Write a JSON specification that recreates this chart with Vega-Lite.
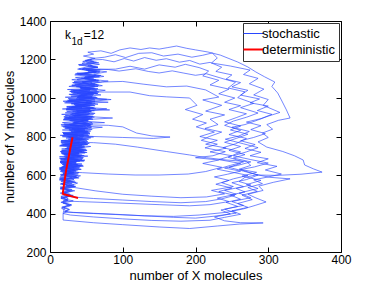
{
"$schema":"https://vega.github.io/schema/vega-lite/v6.json",
"width":291,"height":231,
"autosize":{"type":"none"},
"padding":{"left":50,"top":21,"right":36,"bottom":32},
"background":"white",
"config":{
 "view":{"stroke":"#000","strokeWidth":1},
 "axis":{"grid":false,"domain":false,"tickSize":-5,"tickColor":"#000","tickWidth":1,"labelFont":"Liberation Sans","labelFontSize":12,"labelColor":"#000","titleFont":"Liberation Sans","titleFontSize":13,"titleFontWeight":"normal","titleColor":"#000","labelFlush":false,"labelOverlap":false,"format":"d"},
 "legend":{"orient":"top-right","offset":2,"padding":4,"strokeColor":"#333","fillColor":"#fff","cornerRadius":0,"symbolType":"stroke","symbolSize":400,"labelFont":"Liberation Sans","labelFontSize":13,"labelColor":"#000","rowPadding":2,"labelOffset":2},
 "text":{"font":"Liberation Sans","fill":"#000"}
},
"resolve":{"axis":{"x":"independent","y":"independent"}},
"layer":[
{"data":{"values":[
{"x":22,"y":482},{"x":28,"y":495},{"x":17,"y":508},{"x":26,"y":520},{"x":16,"y":532},{"x":30,"y":545},{"x":15,"y":556},{"x":34,"y":568},{"x":14,"y":580},{"x":37,"y":590},{"x":18,"y":603},{"x":33,"y":615},{"x":13,"y":628},{"x":40,"y":636},{"x":19,"y":648},{"x":36,"y":660},{"x":14,"y":672},{"x":44,"y":680},{"x":21,"y":693},{"x":39,"y":704},{"x":15,"y":716},{"x":47,"y":724},{"x":24,"y":737},{"x":42,"y":748},{"x":16,"y":760},{"x":50,"y":768},{"x":27,"y":781},{"x":45,"y":792},{"x":17,"y":804},{"x":52,"y":812},{"x":29,"y":826},{"x":48,"y":838},{"x":18,"y":850},{"x":55,"y":858},{"x":31,"y":871},{"x":51,"y":883},{"x":20,"y":896},{"x":57,"y":904},{"x":34,"y":917},{"x":54,"y":929},{"x":22,"y":942},{"x":59,"y":950},{"x":36,"y":963},{"x":56,"y":975},{"x":24,"y":988},{"x":61,"y":996},{"x":39,"y":1009},{"x":58,"y":1021},{"x":27,"y":1034},{"x":64,"y":1042},{"x":41,"y":1055},{"x":61,"y":1067},{"x":31,"y":1080},{"x":66,"y":1088},{"x":45,"y":1101},{"x":62,"y":1113},{"x":35,"y":1126},{"x":68,"y":1134},{"x":49,"y":1147},{"x":65,"y":1159},{"x":40,"y":1171},{"x":67,"y":1183},{"x":50,"y":1195},{"x":62,"y":1206},{"x":46,"y":1218},{"x":60,"y":1228},{"x":52,"y":1238},
{"x":70,"y":1245},{"x":84,"y":1232},{"x":96,"y":1250},{"x":110,"y":1260},{"x":125,"y":1252},{"x":137,"y":1260},{"x":150,"y":1254},{"x":162,"y":1262},{"x":174,"y":1270},{"x":188,"y":1258},{"x":200,"y":1250},{"x":217,"y":1239},{"x":234,"y":1223},{"x":246,"y":1205},{"x":258,"y":1187},{"x":272,"y":1161},{"x":283,"y":1135},{"x":295,"y":1110},{"x":309,"y":1083},{"x":305,"y":1060},{"x":313,"y":1026},{"x":318,"y":990},{"x":325,"y":938},{"x":330,"y":896},{"x":314,"y":884},{"x":298,"y":862},{"x":306,"y":838},{"x":292,"y":818},{"x":300,"y":795},{"x":286,"y":772},{"x":298,"y":745},{"x":320,"y":722},{"x":336,"y":700},{"x":348,"y":678},{"x":350,"y":652},{"x":362,"y":632},{"x":374,"y":615},{"x":345,"y":604},{"x":312,"y":598},{"x":283,"y":600},{"x":268,"y":588},{"x":260,"y":566},{"x":276,"y":548},{"x":256,"y":530},{"x":268,"y":512},{"x":248,"y":496},{"x":262,"y":474},{"x":242,"y":458},{"x":258,"y":437},{"x":235,"y":418},{"x":248,"y":398},{"x":226,"y":382},{"x":240,"y":362},{"x":262,"y":352},{"x":293,"y":351},{"x":260,"y":345},{"x":230,"y":335},{"x":192,"y":322},{"x":150,"y":330},{"x":100,"y":342},{"x":60,"y":352},{"x":18,"y":366},{"x":18,"y":400},
{"x":20,"y":434},{"x":26,"y":446},{"x":16,"y":458},{"x":24,"y":470},{"x":15,"y":484},{"x":29,"y":494},{"x":17,"y":506},{"x":31,"y":518},{"x":14,"y":531},{"x":35,"y":541},{"x":16,"y":555},{"x":27,"y":566},{"x":13,"y":578},{"x":38,"y":586},{"x":20,"y":598},{"x":32,"y":611},{"x":15,"y":623},{"x":42,"y":630},{"x":18,"y":644},{"x":37,"y":655},{"x":14,"y":667},{"x":46,"y":674},{"x":22,"y":688},{"x":35,"y":699},{"x":16,"y":711},{"x":49,"y":718},{"x":25,"y":731},{"x":44,"y":742},{"x":15,"y":754},{"x":40,"y":766},{"x":20,"y":778},{"x":53,"y":785},{"x":26,"y":797},{"x":46,"y":809},{"x":17,"y":821},{"x":56,"y":828},{"x":30,"y":841},{"x":49,"y":853},{"x":19,"y":865},{"x":75,"y":872},{"x":28,"y":885},{"x":52,"y":897},{"x":21,"y":909},{"x":60,"y":916},{"x":37,"y":929},{"x":55,"y":941},{"x":23,"y":953},{"x":62,"y":960},{"x":33,"y":973},{"x":57,"y":985},{"x":25,"y":997},{"x":63,"y":1004},{"x":42,"y":1017},{"x":59,"y":1029},{"x":29,"y":1041},{"x":66,"y":1048},{"x":38,"y":1061},{"x":62,"y":1073},{"x":33,"y":1085},{"x":67,"y":1092},{"x":47,"y":1105},{"x":63,"y":1117},{"x":37,"y":1129},{"x":69,"y":1136},{"x":44,"y":1149},{"x":66,"y":1161},{"x":39,"y":1173},{"x":64,"y":1185},{"x":48,"y":1195},{"x":58,"y":1205},
{"x":75,"y":1212},{"x":90,"y":1225},{"x":104,"y":1210},{"x":122,"y":1232},{"x":140,"y":1235},{"x":156,"y":1218},{"x":176,"y":1228},{"x":195,"y":1212},{"x":210,"y":1222},{"x":223,"y":1234},{"x":230,"y":1208},{"x":222,"y":1182},{"x":248,"y":1166},{"x":275,"y":1145},{"x":266,"y":1122},{"x":286,"y":1102},{"x":274,"y":1074},{"x":294,"y":1046},{"x":280,"y":1016},{"x":300,"y":992},{"x":293,"y":962},{"x":316,"y":925},{"x":300,"y":906},{"x":283,"y":882},{"x":268,"y":862},{"x":250,"y":848},{"x":274,"y":826},{"x":259,"y":802},{"x":241,"y":786},{"x":266,"y":762},{"x":286,"y":742},{"x":270,"y":720},{"x":252,"y":700},{"x":276,"y":680},{"x":300,"y":662},{"x":281,"y":642},{"x":262,"y":628},{"x":283,"y":603},{"x":302,"y":588},{"x":330,"y":580},{"x":307,"y":562},{"x":287,"y":542},{"x":293,"y":520},{"x":272,"y":500},{"x":283,"y":481},{"x":297,"y":460},{"x":282,"y":442},{"x":266,"y":424},{"x":242,"y":406},{"x":205,"y":392},{"x":170,"y":385},{"x":130,"y":388},{"x":90,"y":396},{"x":55,"y":402},
{"x":20,"y":408},{"x":27,"y":420},{"x":16,"y":432},{"x":30,"y":444},{"x":18,"y":456},{"x":25,"y":468},{"x":15,"y":480},{"x":31,"y":492},{"x":19,"y":504},{"x":28,"y":516},{"x":14,"y":528},{"x":33,"y":539},{"x":17,"y":551},{"x":36,"y":562},{"x":13,"y":574},{"x":30,"y":585},{"x":21,"y":597},{"x":39,"y":606},{"x":14,"y":619},{"x":34,"y":630},{"x":17,"y":642},{"x":45,"y":650},{"x":20,"y":663},{"x":38,"y":675},{"x":13,"y":687},{"x":43,"y":694},{"x":23,"y":707},{"x":48,"y":715},{"x":17,"y":728},{"x":41,"y":740},{"x":26,"y":752},{"x":51,"y":759},{"x":15,"y":772},{"x":47,"y":783},{"x":28,"y":795},{"x":54,"y":802},{"x":18,"y":815},{"x":43,"y":827},{"x":30,"y":839},{"x":57,"y":846},{"x":20,"y":859},{"x":50,"y":871},{"x":27,"y":883},{"x":59,"y":890},{"x":19,"y":903},{"x":53,"y":915},{"x":35,"y":927},{"x":61,"y":934},{"x":23,"y":947},{"x":55,"y":959},{"x":30,"y":971},{"x":80,"y":978},{"x":26,"y":991},{"x":58,"y":1003},{"x":40,"y":1015},{"x":65,"y":1022},{"x":28,"y":1035},{"x":60,"y":1047},{"x":36,"y":1059},{"x":67,"y":1066},{"x":32,"y":1079},{"x":63,"y":1091},{"x":43,"y":1103},{"x":68,"y":1110},{"x":38,"y":1123},{"x":64,"y":1135},{"x":50,"y":1145},{"x":65,"y":1150},
{"x":80,"y":1148},{"x":95,"y":1140},{"x":118,"y":1152},{"x":135,"y":1138},{"x":150,"y":1130},{"x":168,"y":1141},{"x":183,"y":1130},{"x":200,"y":1118},{"x":215,"y":1126},{"x":238,"y":1100},{"x":255,"y":1082},{"x":245,"y":1052},{"x":268,"y":1032},{"x":258,"y":1002},{"x":280,"y":972},{"x":262,"y":950},{"x":286,"y":922},{"x":270,"y":900},{"x":252,"y":880},{"x":240,"y":858},{"x":262,"y":832},{"x":246,"y":810},{"x":270,"y":790},{"x":255,"y":762},{"x":238,"y":742},{"x":262,"y":720},{"x":245,"y":692},{"x":266,"y":668},{"x":248,"y":650},{"x":230,"y":630},{"x":254,"y":612},{"x":272,"y":598},{"x":252,"y":580},{"x":236,"y":560},{"x":252,"y":540},{"x":222,"y":520},{"x":240,"y":502},{"x":215,"y":486},{"x":180,"y":482},{"x":140,"y":490},{"x":100,"y":500},{"x":62,"y":518},{"x":32,"y":536},
{"x":22,"y":543},{"x":30,"y":555},{"x":15,"y":567},{"x":33,"y":577},{"x":14,"y":590},{"x":38,"y":598},{"x":18,"y":611},{"x":29,"y":622},{"x":13,"y":634},{"x":41,"y":641},{"x":17,"y":654},{"x":36,"y":666},{"x":15,"y":678},{"x":45,"y":685},{"x":19,"y":698},{"x":40,"y":710},{"x":14,"y":722},{"x":50,"y":729},{"x":23,"y":742},{"x":44,"y":754},{"x":16,"y":766},{"x":52,"y":773},{"x":25,"y":786},{"x":46,"y":798},{"x":19,"y":810},{"x":55,"y":817},{"x":27,"y":830},{"x":49,"y":842},{"x":16,"y":854},{"x":57,"y":861},{"x":33,"y":874},{"x":53,"y":886},{"x":21,"y":898},{"x":59,"y":905},{"x":30,"y":918},{"x":56,"y":930},{"x":24,"y":942},{"x":61,"y":949},{"x":35,"y":962},{"x":58,"y":974},{"x":27,"y":986},{"x":78,"y":993},{"x":38,"y":1006},{"x":60,"y":1018},{"x":29,"y":1030},{"x":65,"y":1037},{"x":42,"y":1050},{"x":62,"y":1062},{"x":34,"y":1072},{"x":66,"y":1080},
{"x":72,"y":1083},{"x":100,"y":1086},{"x":128,"y":1072},{"x":160,"y":1058},{"x":188,"y":1062},{"x":214,"y":1042},{"x":232,"y":1005},{"x":210,"y":990},{"x":236,"y":962},{"x":214,"y":932},{"x":240,"y":912},{"x":220,"y":890},{"x":231,"y":862},{"x":213,"y":842},{"x":236,"y":823},{"x":219,"y":800},{"x":208,"y":780},{"x":230,"y":760},{"x":213,"y":741},{"x":241,"y":721},{"x":224,"y":700},{"x":200,"y":690},{"x":232,"y":678},{"x":210,"y":660},{"x":236,"y":640},{"x":214,"y":618},{"x":190,"y":605},{"x":150,"y":600},{"x":117,"y":600},{"x":80,"y":605},{"x":45,"y":612},
{"x":25,"y":616},{"x":33,"y":627},{"x":15,"y":639},{"x":42,"y":647},{"x":18,"y":660},{"x":37,"y":671},{"x":14,"y":683},{"x":46,"y":690},{"x":21,"y":703},{"x":40,"y":715},{"x":16,"y":727},{"x":49,"y":734},{"x":24,"y":747},{"x":45,"y":759},{"x":15,"y":771},{"x":51,"y":778},{"x":28,"y":791},{"x":47,"y":803},{"x":18,"y":815},{"x":54,"y":822},{"x":26,"y":835},{"x":50,"y":847},{"x":55,"y":860},
{"x":80,"y":858},{"x":100,"y":850},{"x":119,"y":818},{"x":140,"y":803},{"x":165,"y":797},{"x":142,"y":790},{"x":100,"y":795},{"x":60,"y":800},
{"x":35,"y":806},{"x":18,"y":818},{"x":52,"y":826},{"x":29,"y":839},{"x":20,"y":852},{"x":56,"y":858},{"x":32,"y":871},{"x":52,"y":883},{"x":19,"y":895},{"x":58,"y":902},{"x":28,"y":915},{"x":54,"y":927},{"x":22,"y":939},{"x":60,"y":946},{"x":34,"y":959},{"x":57,"y":971},{"x":25,"y":983},{"x":62,"y":990},{"x":37,"y":1003},{"x":59,"y":1015},{"x":31,"y":1025},{"x":66,"y":1031},
{"x":75,"y":1031},{"x":110,"y":1031},{"x":137,"y":1012},{"x":160,"y":1006},{"x":192,"y":1000},{"x":202,"y":962},{"x":186,"y":940},{"x":210,"y":914},{"x":196,"y":890},{"x":215,"y":870},{"x":201,"y":850},{"x":226,"y":823},{"x":206,"y":800},{"x":230,"y":780},{"x":214,"y":760},{"x":242,"y":740},{"x":220,"y":720},{"x":250,"y":700},{"x":232,"y":680},{"x":262,"y":660},{"x":246,"y":640},{"x":266,"y":620},{"x":286,"y":600},{"x":270,"y":576},{"x":250,"y":560},{"x":266,"y":540},{"x":240,"y":520},{"x":256,"y":500},{"x":230,"y":480},{"x":246,"y":462},{"x":220,"y":446},{"x":192,"y":440},{"x":150,"y":446},{"x":110,"y":452},{"x":70,"y":458},{"x":40,"y":462},
{"x":18,"y":465},{"x":25,"y":477},{"x":15,"y":489},{"x":27,"y":501},{"x":17,"y":513},{"x":30,"y":525},{"x":14,"y":537},{"x":33,"y":548},{"x":19,"y":560},{"x":28,"y":572},{"x":13,"y":584},{"x":36,"y":593},{"x":18,"y":605},{"x":40,"y":613},{"x":15,"y":626},{"x":33,"y":638},{"x":20,"y":650},{"x":44,"y":657},{"x":14,"y":670},{"x":39,"y":682},{"x":22,"y":694},{"x":47,"y":701},{"x":16,"y":714},{"x":42,"y":726},{"x":24,"y":738},{"x":48,"y":746},{"x":18,"y":758},{"x":37,"y":770},
{"x":60,"y":768},{"x":90,"y":760},{"x":120,"y":745},{"x":160,"y":722},{"x":192,"y":704},{"x":215,"y":690},{"x":242,"y":678},{"x":270,"y":670},{"x":276,"y":650},{"x":260,"y":630},{"x":284,"y":614},{"x":264,"y":594},{"x":290,"y":572},{"x":270,"y":550},{"x":286,"y":530},{"x":260,"y":506},{"x":276,"y":482},{"x":250,"y":462},{"x":266,"y":442},{"x":240,"y":422},{"x":256,"y":402},{"x":226,"y":386},{"x":200,"y":376},{"x":170,"y":380},{"x":140,"y":386},{"x":100,"y":393},{"x":60,"y":400},{"x":32,"y":405},
{"x":20,"y":410},{"x":26,"y":422},{"x":17,"y":434},{"x":29,"y":446},{"x":15,"y":458},{"x":24,"y":470},{"x":18,"y":482},{"x":32,"y":494},{"x":14,"y":506},{"x":28,"y":518},{"x":20,"y":530},{"x":35,"y":540},{"x":14,"y":553},{"x":31,"y":564},{"x":17,"y":577},{"x":40,"y":585},{"x":15,"y":598},{"x":35,"y":610},{"x":20,"y":622},{"x":43,"y":629},{"x":16,"y":642},{"x":38,"y":654},{"x":14,"y":666},{"x":47,"y":673},{"x":20,"y":686},{"x":42,"y":698},{"x":17,"y":710},{"x":51,"y":717},{"x":25,"y":730},{"x":46,"y":742},{"x":14,"y":754},{"x":50,"y":762},{"x":27,"y":775},{"x":44,"y":787},{"x":17,"y":799},{"x":53,"y":806},{"x":30,"y":819},{"x":48,"y":831},{"x":21,"y":843},{"x":57,"y":850},{"x":26,"y":863},{"x":52,"y":875},{"x":18,"y":887},{"x":56,"y":894},{"x":33,"y":907},{"x":55,"y":919},{"x":23,"y":931},{"x":82,"y":938},{"x":29,"y":951},{"x":57,"y":963},{"x":20,"y":975},{"x":62,"y":982},{"x":36,"y":995},{"x":58,"y":1007},{"x":26,"y":1019},{"x":64,"y":1026},{"x":40,"y":1039},{"x":60,"y":1051},{"x":30,"y":1063},{"x":65,"y":1070},{"x":44,"y":1083},{"x":63,"y":1095},{"x":35,"y":1107},{"x":68,"y":1114},{"x":47,"y":1127},{"x":64,"y":1139},{"x":40,"y":1151},{"x":66,"y":1158},{"x":52,"y":1170},{"x":61,"y":1182},{"x":45,"y":1190},{"x":57,"y":1200},{"x":44,"y":1180},{"x":58,"y":1168},{"x":38,"y":1150},{"x":62,"y":1138},{"x":34,"y":1120},{"x":60,"y":1110},{"x":30,"y":1095},{"x":58,"y":1082},{"x":26,"y":1060},{"x":62,"y":1050},
{"x":24,"y":1044},{"x":55,"y":1038},{"x":33,"y":1030},{"x":66,"y":1024},{"x":28,"y":1017},{"x":48,"y":1011},{"x":21,"y":1004},{"x":57,"y":998},{"x":36,"y":990},{"x":18,"y":983},{"x":52,"y":977},{"x":29,"y":970},{"x":60,"y":964},{"x":23,"y":956},{"x":44,"y":950},{"x":17,"y":943},{"x":56,"y":937},{"x":31,"y":929},{"x":50,"y":922},{"x":16,"y":915},{"x":42,"y":909},{"x":26,"y":902},{"x":58,"y":896},{"x":19,"y":888},{"x":47,"y":881},{"x":33,"y":874},{"x":54,"y":868},{"x":15,"y":861},{"x":40,"y":854},{"x":24,"y":847},{"x":52,"y":841},{"x":17,"y":834},{"x":45,"y":827},{"x":30,"y":820},{"x":55,"y":814},{"x":14,"y":806},{"x":38,"y":799},{"x":22,"y":792},{"x":49,"y":786},{"x":16,"y":779},{"x":41,"y":772},{"x":27,"y":765},{"x":52,"y":759},{"x":13,"y":751},{"x":36,"y":744},{"x":21,"y":737},{"x":46,"y":731},{"x":15,"y":723},{"x":39,"y":716},{"x":25,"y":709},{"x":44,"y":703},{"x":13,"y":695},{"x":33,"y":688},{"x":19,"y":681},{"x":41,"y":675},{"x":14,"y":667},{"x":30,"y":660},{"x":18,"y":652},{"x":38,"y":646},{"x":13,"y":638},{"x":27,"y":631},{"x":35,"y":624},{"x":16,"y":616},{"x":30,"y":609},{"x":14,"y":601},
{"x":24,"y":596},{"x":16,"y":604},{"x":33,"y":611},{"x":20,"y":619},{"x":38,"y":626},{"x":14,"y":633},{"x":29,"y":641},{"x":43,"y":648},{"x":17,"y":655},{"x":36,"y":663},{"x":22,"y":670},{"x":48,"y":677},{"x":15,"y":684},{"x":32,"y":692},{"x":45,"y":699},{"x":19,"y":706},{"x":40,"y":714},{"x":27,"y":721},{"x":51,"y":728},{"x":16,"y":735},{"x":35,"y":743},{"x":47,"y":750},{"x":21,"y":757},{"x":54,"y":764},{"x":29,"y":772},{"x":15,"y":779},{"x":43,"y":786},{"x":56,"y":793},{"x":24,"y":800},{"x":38,"y":808},{"x":18,"y":815},{"x":50,"y":822},{"x":33,"y":829},{"x":58,"y":836},{"x":20,"y":844},{"x":45,"y":851},{"x":28,"y":858},{"x":59,"y":865},{"x":17,"y":872},{"x":39,"y":880},{"x":53,"y":887},{"x":25,"y":894},{"x":61,"y":901},{"x":31,"y":908},{"x":46,"y":916},{"x":21,"y":923},{"x":57,"y":930},{"x":36,"y":937},{"x":63,"y":944},{"x":26,"y":952},{"x":48,"y":959},{"x":33,"y":966},{"x":62,"y":973},{"x":22,"y":980},{"x":54,"y":988},{"x":40,"y":995},{"x":65,"y":1002},{"x":29,"y":1009},{"x":51,"y":1016},{"x":37,"y":1024},{"x":67,"y":1031},{"x":32,"y":1038},{"x":56,"y":1045},{"x":42,"y":1052},{"x":66,"y":1060},{"x":30,"y":1067},{"x":53,"y":1074},{"x":45,"y":1081},{"x":68,"y":1088},{"x":37,"y":1096},{"x":60,"y":1103},{"x":48,"y":1110},{"x":70,"y":1117},{"x":41,"y":1124},{"x":63,"y":1132},{"x":52,"y":1139},{"x":69,"y":1146},{"x":45,"y":1153},{"x":64,"y":1160},{"x":55,"y":1168},{"x":68,"y":1175},{"x":50,"y":1182},{"x":60,"y":1190},{"x":55,"y":1197},
{"x":72,"y":1200},{"x":88,"y":1188},{"x":102,"y":1205},{"x":115,"y":1192},{"x":130,"y":1210},{"x":146,"y":1196},{"x":160,"y":1204},{"x":178,"y":1186},{"x":192,"y":1195},{"x":206,"y":1176},{"x":220,"y":1185},{"x":236,"y":1160},{"x":228,"y":1138},{"x":250,"y":1120},{"x":242,"y":1098},{"x":262,"y":1080},{"x":250,"y":1058},{"x":272,"y":1040},{"x":262,"y":1015},{"x":288,"y":995},{"x":275,"y":975},{"x":300,"y":958},{"x":285,"y":935},{"x":305,"y":915},{"x":290,"y":893},{"x":270,"y":875},{"x":290,"y":856},{"x":276,"y":836},{"x":296,"y":815},{"x":280,"y":795},{"x":262,"y":778},{"x":282,"y":758},{"x":268,"y":738},{"x":290,"y":718},{"x":275,"y":700},{"x":300,"y":684},{"x":285,"y":664},{"x":312,"y":645},{"x":296,"y":626},{"x":318,"y":605},{"x":300,"y":590},{"x":280,"y":575},{"x":292,"y":555},{"x":272,"y":535},{"x":285,"y":515},{"x":264,"y":495},{"x":278,"y":472},{"x":258,"y":452},{"x":272,"y":432},{"x":250,"y":414},{"x":262,"y":396},{"x":240,"y":380},{"x":220,"y":365},{"x":180,"y":360},{"x":140,"y":364},{"x":100,"y":372},{"x":60,"y":382},{"x":28,"y":392},{"x":18,"y":400},
{"x":24,"y":412},{"x":16,"y":426},{"x":28,"y":440},{"x":18,"y":454},{"x":32,"y":466},{"x":15,"y":478},{"x":27,"y":492},{"x":19,"y":506},{"x":34,"y":518},{"x":15,"y":532},{"x":29,"y":546},{"x":38,"y":558},{"x":16,"y":570},{"x":33,"y":584},{"x":42,"y":596},{"x":18,"y":608},{"x":36,"y":620},{"x":24,"y":634},{"x":46,"y":646},{"x":15,"y":660},{"x":41,"y":672},{"x":28,"y":686},{"x":52,"y":698},{"x":19,"y":710},{"x":44,"y":722},{"x":31,"y":736},{"x":56,"y":748},{"x":20,"y":760},{"x":48,"y":772},{"x":35,"y":786},{"x":60,"y":798},{"x":24,"y":810},{"x":52,"y":822},{"x":38,"y":836},{"x":72,"y":848},{"x":28,"y":860},{"x":58,"y":872},{"x":42,"y":886},{"x":86,"y":896},{"x":34,"y":908},{"x":62,"y":920},{"x":46,"y":932},{"x":78,"y":944},{"x":30,"y":956},{"x":66,"y":968},{"x":50,"y":980},{"x":84,"y":992},{"x":38,"y":1004},{"x":70,"y":1016},{"x":52,"y":1028},{"x":76,"y":1040},{"x":42,"y":1052},{"x":72,"y":1064},{"x":56,"y":1076},{"x":80,"y":1088},{"x":48,"y":1100},{"x":74,"y":1112},{"x":60,"y":1124},{"x":78,"y":1136},{"x":52,"y":1148},
{"x":90,"y":1150},{"x":110,"y":1165},{"x":130,"y":1150},{"x":150,"y":1172},{"x":172,"y":1160},{"x":186,"y":1175},{"x":205,"y":1158},{"x":218,"y":1140},{"x":210,"y":1115},{"x":232,"y":1092},{"x":220,"y":1068},{"x":246,"y":1046},{"x":232,"y":1022},{"x":254,"y":1000},{"x":240,"y":978},{"x":262,"y":960},{"x":246,"y":940},{"x":270,"y":918},{"x":256,"y":898},{"x":240,"y":876},{"x":262,"y":854},{"x":248,"y":834},{"x":272,"y":812},{"x":256,"y":790},{"x":240,"y":770},{"x":262,"y":748},{"x":246,"y":728},{"x":268,"y":706},{"x":252,"y":688},{"x":276,"y":668},{"x":258,"y":650},{"x":240,"y":636},{"x":262,"y":620},{"x":244,"y":604},{"x":226,"y":590},{"x":246,"y":572},{"x":228,"y":552},{"x":250,"y":532},{"x":232,"y":514},{"x":254,"y":494},{"x":236,"y":476},{"x":214,"y":462},{"x":180,"y":456},{"x":140,"y":462},{"x":100,"y":470},{"x":60,"y":478},{"x":30,"y":486},{"x":20,"y":492}
]},
"mark":{"type":"line","strokeWidth":0.65},
"encoding":{
 "x":{"field":"x","type":"quantitative","scale":{"domain":[0,400],"nice":false,"zero":false},"axis":{"orient":"bottom","values":[0,100,200,300,400],"labelPadding":7,"title":"number of X molecules","titlePadding":4}},
 "y":{"field":"y","type":"quantitative","scale":{"domain":[200,1400],"nice":false,"zero":false},"axis":{"orient":"left","values":[200,400,600,800,1000,1200,1400],"labelPadding":9,"title":"number of Y molecules","titlePadding":3}},
 "color":{"datum":"stochastic","type":"nominal","scale":{"domain":["stochastic","deterministic"],"range":["#2846ff","#ff0000"]},"legend":{"title":null,"encode":{"symbols":{"update":{"strokeWidth":{"signal":"datum.value === 'deterministic' ? 2 : 1"}}}}}},
 "order":{"value":null}
}},
{"data":{"values":[
{"x":38.5,"y":481},{"x":30,"y":489},{"x":24,"y":495},{"x":17.5,"y":502},{"x":18.5,"y":530},{"x":20,"y":570},{"x":22,"y":620},{"x":25,"y":680},{"x":28,"y":740},{"x":31,"y":796}
]},
"mark":{"type":"line","strokeWidth":2},
"encoding":{
 "x":{"field":"x","type":"quantitative","axis":{"orient":"top","values":[0,100,200,300,400],"labels":false,"title":null}},
 "y":{"field":"y","type":"quantitative","axis":{"orient":"right","values":[200,400,600,800,1000,1200,1400],"labels":false,"title":null}},
 "color":{"datum":"deterministic","type":"nominal"},
 "order":{"value":null}
}},
{"data":{"values":[{}]},"mark":{"type":"text","align":"left","baseline":"alphabetic","fontSize":12},
 "encoding":{"x":{"datum":20.6,"type":"quantitative","axis":null},"y":{"datum":1306,"type":"quantitative","axis":null},"text":{"value":"k"}}},
{"data":{"values":[{}]},"mark":{"type":"text","align":"left","baseline":"alphabetic","fontSize":10},
 "encoding":{"x":{"datum":29.6,"type":"quantitative","axis":null},"y":{"datum":1276,"type":"quantitative","axis":null},"text":{"value":"1d"}}},
{"data":{"values":[{}]},"mark":{"type":"text","align":"left","baseline":"alphabetic","fontSize":12},
 "encoding":{"x":{"datum":46.5,"type":"quantitative","axis":null},"y":{"datum":1306,"type":"quantitative","axis":null},"text":{"value":"=12"}}}
]
}
